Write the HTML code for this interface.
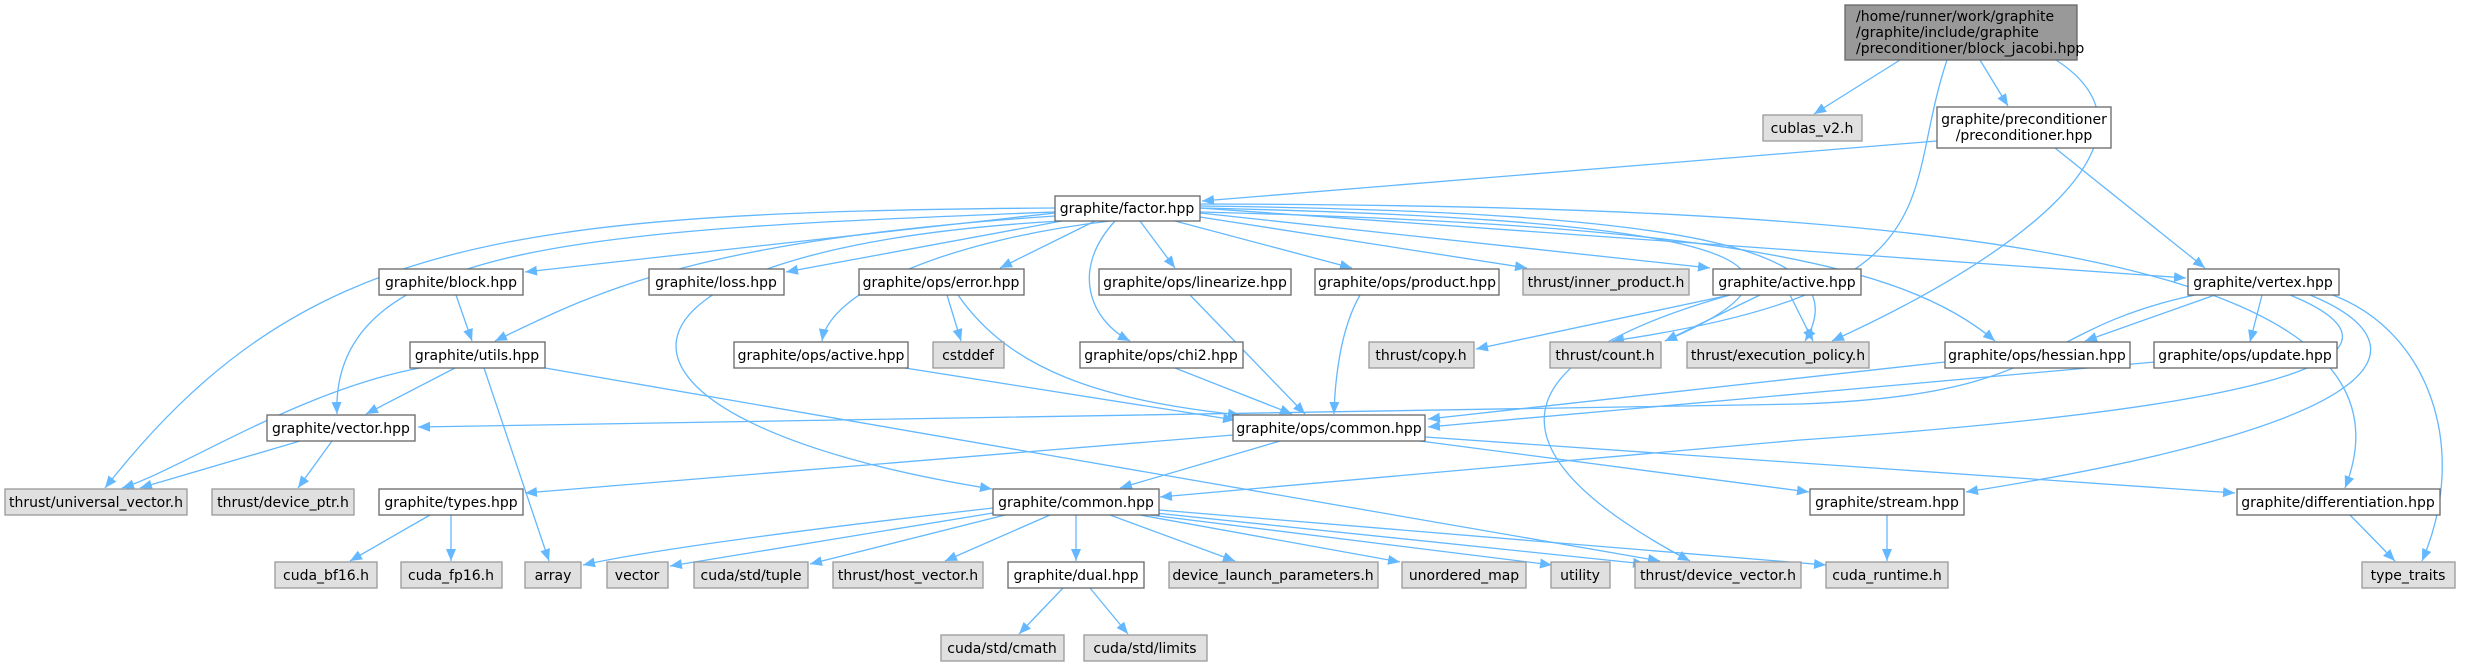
<!DOCTYPE html>
<html><head><meta charset="utf-8"><style>
html,body{margin:0;padding:0;background:#fff;}
svg{display:block;}
text{font-family:"DejaVu Sans","Liberation Sans",sans-serif;font-size:14px;fill:#000;}
.n{fill:#fff;stroke:#666;stroke-width:1.3;}
.g{fill:#e0e0e0;stroke:#999;stroke-width:1.3;}
.r{fill:#999;stroke:#666;stroke-width:1.3;}
.e{fill:none;stroke:#63b8ff;stroke-width:1.3;marker-end:url(#a);}
</style></head><body>
<svg width="2467" height="667" viewBox="0 0 2467 667" xmlns="http://www.w3.org/2000/svg">
<defs><marker id="a" markerUnits="userSpaceOnUse" markerWidth="14" markerHeight="12" refX="12" refY="5" orient="auto"><path d="M0,0 L12,5 L0,10 z" fill="#63b8ff"/></marker></defs>
<g>
<path class="e" d="M1900,60 L1814,114"/>
<path class="e" d="M1980,60 L2008,106"/>
<path class="e" d="M1947,60 C1900,200 1960,290 1612,341"/>
<path class="e" d="M2056,60 C2180,140 2010,260 1832,341"/>
<path class="e" d="M1937,141 L1202,201"/>
<path class="e" d="M2055,148 L2205,268"/>
<path class="e" d="M1055,213 L525,272"/>
<path class="e" d="M1062,221 L786,272"/>
<path class="e" d="M1095,221 L1000,268"/>
<path class="e" d="M1110,221 C950,240 830,290 822,341"/>
<path class="e" d="M1140,221 L1175,268"/>
<path class="e" d="M1115,221 C1070,270 1090,320 1130,341"/>
<path class="e" d="M1175,221 L1352,268"/>
<path class="e" d="M1200,217 L1527,268"/>
<path class="e" d="M1200,213 L1710,268"/>
<path class="e" d="M1200,212 C1700,225 1900,260 1995,341"/>
<path class="e" d="M1200,208 L2186,278"/>
<path class="e" d="M1200,206 C1700,212 1860,250 1805,341"/>
<path class="e" d="M1200,208 C1650,218 1880,250 1665,341"/>
<path class="e" d="M1200,204 C1900,205 2440,250 2345,488"/>
<path class="e" d="M1055,216 C700,240 600,290 495,341"/>
<path class="e" d="M1055,212 C600,230 330,240 337,414"/>
<path class="e" d="M1055,208 C500,212 300,240 105,488"/>
<path class="e" d="M1060,221 C560,250 560,420 992,489"/>
<path class="e" d="M456,295 L472,341"/>
<path class="e" d="M455,368 L366,414"/>
<path class="e" d="M420,368 C300,390 180,470 122,488"/>
<path class="e" d="M484,368 L549,561"/>
<path class="e" d="M545,368 L1660,561"/>
<path class="e" d="M300,441 L140,488"/>
<path class="e" d="M332,441 L298,488"/>
<path class="e" d="M947,295 L961,341"/>
<path class="e" d="M958,295 C1010,370 1100,400 1240,415"/>
<path class="e" d="M905,368 L1235,420"/>
<path class="e" d="M1190,295 L1305,414"/>
<path class="e" d="M1175,368 L1292,414"/>
<path class="e" d="M1360,295 C1340,330 1335,380 1334,414"/>
<path class="e" d="M1945,362 L1428,419"/>
<path class="e" d="M2155,362 L1428,427"/>
<path class="e" d="M1730,295 L1476,349"/>
<path class="e" d="M1760,295 L1665,341"/>
<path class="e" d="M1790,295 L1813,341"/>
<path class="e" d="M1730,295 C1500,360 1480,450 1690,561"/>
<path class="e" d="M2215,295 L2085,341"/>
<path class="e" d="M2262,295 L2250,342"/>
<path class="e" d="M2195,295 C2030,330 2060,395 1800,404 L418,427"/>
<path class="e" d="M2290,295 C2400,340 2380,400 1800,440 C1500,465 1300,485 1160,497"/>
<path class="e" d="M2310,295 C2420,340 2420,420 1966,492"/>
<path class="e" d="M2330,294 C2430,330 2470,450 2422,561"/>
<path class="e" d="M1233,435 L525,493"/>
<path class="e" d="M1280,441 L1120,488"/>
<path class="e" d="M1420,441 L1809,492"/>
<path class="e" d="M1425,437 L2235,493"/>
<path class="e" d="M993,508 C800,530 650,550 583,565"/>
<path class="e" d="M993,513 L670,566"/>
<path class="e" d="M1005,515 L810,564"/>
<path class="e" d="M1050,515 L945,561"/>
<path class="e" d="M1076,515 L1076,561"/>
<path class="e" d="M1110,515 L1235,561"/>
<path class="e" d="M1140,515 L1400,562"/>
<path class="e" d="M1150,515 L1552,565"/>
<path class="e" d="M1155,513 L1645,564"/>
<path class="e" d="M1159,510 L1826,565"/>
<path class="e" d="M430,515 L350,561"/>
<path class="e" d="M451,515 L451,561"/>
<path class="e" d="M1063,588 L1019,634"/>
<path class="e" d="M1090,588 L1128,634"/>
<path class="e" d="M1887,515 L1887,561"/>
<path class="e" d="M2350,515 L2395,561"/>
</g>
<g>
<rect class="r" x="1845" y="5" width="232" height="55"/>
<text x="1856" y="21">/home/runner/work/graphite</text>
<text x="1856" y="37">/graphite/include/graphite</text>
<text x="1856" y="53">/preconditioner/block_jacobi.hpp</text>
<rect class="g" x="1763" y="115" width="99" height="26"/><text x="1812" y="133" text-anchor="middle">cublas_v2.h</text>
<rect class="n" x="1937" y="107" width="174" height="41"/>
<text x="2024" y="124" text-anchor="middle">graphite/preconditioner</text>
<text x="2024" y="140" text-anchor="middle">/preconditioner.hpp</text>

<rect class="n" x="1055" y="196" width="145" height="25"/><text x="1127" y="213" text-anchor="middle">graphite/factor.hpp</text>

<rect class="n" x="379" y="269" width="144" height="26"/><text x="451" y="287" text-anchor="middle">graphite/block.hpp</text>
<rect class="n" x="649" y="269" width="135" height="26"/><text x="716" y="287" text-anchor="middle">graphite/loss.hpp</text>
<rect class="n" x="859" y="269" width="165" height="26"/><text x="941" y="287" text-anchor="middle">graphite/ops/error.hpp</text>
<rect class="n" x="1099" y="269" width="192" height="26"/><text x="1195" y="287" text-anchor="middle">graphite/ops/linearize.hpp</text>
<rect class="n" x="1315" y="269" width="184" height="26"/><text x="1407" y="287" text-anchor="middle">graphite/ops/product.hpp</text>
<rect class="g" x="1523" y="269" width="166" height="26"/><text x="1606" y="287" text-anchor="middle">thrust/inner_product.h</text>
<rect class="n" x="1713" y="269" width="148" height="26"/><text x="1787" y="287" text-anchor="middle">graphite/active.hpp</text>
<rect class="n" x="2188" y="269" width="151" height="26"/><text x="2263" y="287" text-anchor="middle">graphite/vertex.hpp</text>

<rect class="n" x="410" y="342" width="135" height="26"/><text x="477" y="360" text-anchor="middle">graphite/utils.hpp</text>
<rect class="n" x="734" y="342" width="174" height="26"/><text x="821" y="360" text-anchor="middle">graphite/ops/active.hpp</text>
<rect class="g" x="933" y="342" width="71" height="26"/><text x="968" y="360" text-anchor="middle">cstddef</text>
<rect class="n" x="1080" y="342" width="163" height="26"/><text x="1161" y="360" text-anchor="middle">graphite/ops/chi2.hpp</text>
<rect class="g" x="1369" y="342" width="105" height="26"/><text x="1421" y="360" text-anchor="middle">thrust/copy.h</text>
<rect class="g" x="1550" y="342" width="111" height="26"/><text x="1605" y="360" text-anchor="middle">thrust/count.h</text>
<rect class="g" x="1687" y="342" width="182" height="26"/><text x="1778" y="360" text-anchor="middle">thrust/execution_policy.h</text>
<rect class="n" x="1945" y="342" width="185" height="26"/><text x="2037" y="360" text-anchor="middle">graphite/ops/hessian.hpp</text>
<rect class="n" x="2154" y="342" width="183" height="26"/><text x="2245" y="360" text-anchor="middle">graphite/ops/update.hpp</text>

<rect class="n" x="267" y="415" width="148" height="26"/><text x="341" y="433" text-anchor="middle">graphite/vector.hpp</text>
<rect class="n" x="1233" y="415" width="192" height="26"/><text x="1329" y="433" text-anchor="middle">graphite/ops/common.hpp</text>

<rect class="g" x="5" y="489" width="182" height="26"/><text x="96" y="507" text-anchor="middle">thrust/universal_vector.h</text>
<rect class="g" x="212" y="489" width="142" height="26"/><text x="283" y="507" text-anchor="middle">thrust/device_ptr.h</text>
<rect class="n" x="379" y="489" width="144" height="26"/><text x="451" y="507" text-anchor="middle">graphite/types.hpp</text>
<rect class="n" x="993" y="489" width="166" height="26"/><text x="1076" y="507" text-anchor="middle">graphite/common.hpp</text>
<rect class="n" x="1810" y="489" width="154" height="26"/><text x="1887" y="507" text-anchor="middle">graphite/stream.hpp</text>
<rect class="n" x="2237" y="489" width="203" height="26"/><text x="2338" y="507" text-anchor="middle">graphite/differentiation.hpp</text>

<rect class="g" x="275" y="562" width="102" height="26"/><text x="326" y="580" text-anchor="middle">cuda_bf16.h</text>
<rect class="g" x="401" y="562" width="101" height="26"/><text x="451" y="580" text-anchor="middle">cuda_fp16.h</text>
<rect class="g" x="525" y="562" width="56" height="26"/><text x="553" y="580" text-anchor="middle">array</text>
<rect class="g" x="607" y="562" width="61" height="26"/><text x="637" y="580" text-anchor="middle">vector</text>
<rect class="g" x="694" y="562" width="114" height="26"/><text x="751" y="580" text-anchor="middle">cuda/std/tuple</text>
<rect class="g" x="833" y="562" width="150" height="26"/><text x="908" y="580" text-anchor="middle">thrust/host_vector.h</text>
<rect class="n" x="1008" y="562" width="136" height="26"/><text x="1076" y="580" text-anchor="middle">graphite/dual.hpp</text>
<rect class="g" x="1169" y="562" width="209" height="26"/><text x="1273" y="580" text-anchor="middle">device_launch_parameters.h</text>
<rect class="g" x="1402" y="562" width="124" height="26"/><text x="1464" y="580" text-anchor="middle">unordered_map</text>
<rect class="g" x="1551" y="562" width="59" height="26"/><text x="1580" y="580" text-anchor="middle">utility</text>
<rect class="g" x="1635" y="562" width="166" height="26"/><text x="1718" y="580" text-anchor="middle">thrust/device_vector.h</text>
<rect class="g" x="1826" y="562" width="122" height="26"/><text x="1887" y="580" text-anchor="middle">cuda_runtime.h</text>
<rect class="g" x="2362" y="562" width="93" height="26"/><text x="2408" y="580" text-anchor="middle">type_traits</text>

<rect class="g" x="941" y="635" width="123" height="26"/><text x="1002" y="653" text-anchor="middle">cuda/std/cmath</text>
<rect class="g" x="1084" y="635" width="123" height="26"/><text x="1145" y="653" text-anchor="middle">cuda/std/limits</text>
</g>
</svg>
</body></html>
